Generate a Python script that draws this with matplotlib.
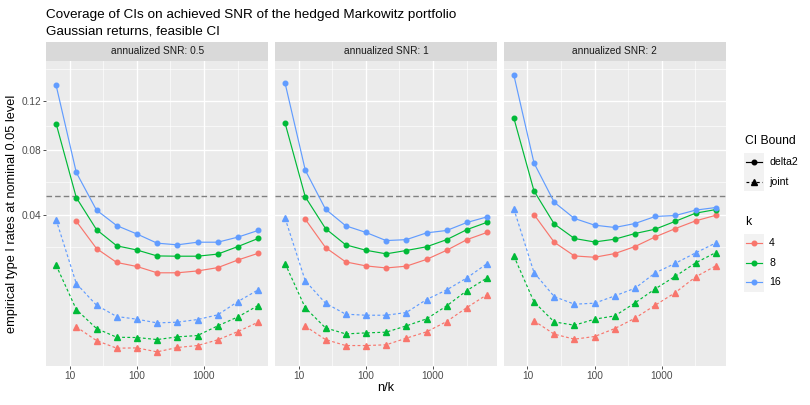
import numpy as np
import matplotlib
matplotlib.use("Agg")
import matplotlib.pyplot as plt
from matplotlib.patches import Rectangle

plt.rcParams['font.family'] = ['Liberation Sans', 'DejaVu Sans']

# n/k on the x axis (k=4 has no point at the first value)
n_over_k = [6.25, 12.5, 25, 50, 100, 200, 400, 800, 1600, 3200, 6400]
snr_labels = ['annualized SNR: 0.5', 'annualized SNR: 1', 'annualized SNR: 2']
k_values = [4, 8, 16]
k_colors = ['#F8766D', '#00BA38', '#619CFF']
nominal = 0.05

# annualized SNR 0.5
delta2_snr05_k4 = [0.0366, 0.0244, 0.0191, 0.0177, 0.0156, 0.0156, 0.0162, 0.0173, 0.0200, 0.0225]
delta2_snr05_k8 = [0.1006, 0.0492, 0.0326, 0.0255, 0.0238, 0.0215, 0.0214, 0.0214, 0.0222, 0.0252, 0.0286]
delta2_snr05_k16 = [0.1344, 0.0646, 0.0423, 0.0345, 0.0306, 0.0266, 0.0259, 0.0270, 0.0270, 0.0292, 0.0322]
joint_snr05_k4 = [0.00305, 0.00141, 0.00077, 0.00079, 0.00053, 0.00082, 0.00097, 0.00148, 0.00242, 0.00375]
joint_snr05_k8 = [0.01814, 0.00602, 0.00282, 0.00175, 0.00172, 0.00151, 0.00179, 0.00194, 0.00319, 0.00463, 0.00684]
joint_snr05_k16 = [0.0374, 0.01233, 0.00691, 0.00470, 0.00424, 0.00364, 0.00375, 0.00418, 0.00500, 0.00772, 0.01058]

# annualized SNR 1
delta2_snr1_k4 = [0.0376, 0.0248, 0.0193, 0.0179, 0.0172, 0.0178, 0.0202, 0.0237, 0.0281, 0.0313]
delta2_snr1_k8 = [0.1009, 0.0496, 0.0331, 0.0259, 0.0237, 0.0223, 0.0236, 0.0251, 0.0281, 0.0326, 0.0361]
delta2_snr1_k16 = [0.1363, 0.0661, 0.0428, 0.0344, 0.0313, 0.0277, 0.0281, 0.0311, 0.0322, 0.0360, 0.0388]
joint_snr1_k4 = [0.00314, 0.00151, 0.00097, 0.00097, 0.00103, 0.00165, 0.00238, 0.00386, 0.00642, 0.00938]
joint_snr1_k8 = [0.01871, 0.00635, 0.00291, 0.00213, 0.00225, 0.00234, 0.00319, 0.00429, 0.00677, 0.01041, 0.01401]
joint_snr1_k16 = [0.0381, 0.01311, 0.00735, 0.00512, 0.00493, 0.00493, 0.00543, 0.00818, 0.01058, 0.01401, 0.01871]

# annualized SNR 2
delta2_snr2_k4 = [0.0400, 0.0270, 0.0215, 0.0210, 0.0224, 0.0252, 0.0293, 0.0331, 0.0368, 0.0396]
delta2_snr2_k8 = [0.1053, 0.0531, 0.0353, 0.0286, 0.0271, 0.0283, 0.0308, 0.0328, 0.0366, 0.0407, 0.0426]
delta2_snr2_k16 = [0.1444, 0.0710, 0.0466, 0.0380, 0.0347, 0.0336, 0.0355, 0.0390, 0.0395, 0.0423, 0.0437]
joint_snr2_k4 = [0.00397, 0.00210, 0.00155, 0.00183, 0.00282, 0.00441, 0.00691, 0.00990, 0.01431, 0.01790]
joint_snr2_k8 = [0.0215, 0.00764, 0.00380, 0.00329, 0.00424, 0.00481, 0.00742, 0.01085, 0.01452, 0.01896, 0.0228]
joint_snr2_k16 = [0.0430, 0.01568, 0.00889, 0.00713, 0.00735, 0.00905, 0.01103, 0.01557, 0.01883, 0.02267, 0.0267]

facets = [
    ([delta2_snr05_k4, delta2_snr05_k8, delta2_snr05_k16],
     [joint_snr05_k4, joint_snr05_k8, joint_snr05_k16]),
    ([delta2_snr1_k4, delta2_snr1_k8, delta2_snr1_k16],
     [joint_snr1_k4, joint_snr1_k8, joint_snr1_k16]),
    ([delta2_snr2_k4, delta2_snr2_k8, delta2_snr2_k16],
     [joint_snr2_k4, joint_snr2_k8, joint_snr2_k16]),
]

W, H = 810, 405
fig = plt.figure(figsize=(W / 100, H / 100), dpi=100)

LW = 0.85
JOINT_LS = (0, (2.4, 2.0))

# ggplot-like scale limits: 5% expansion in transformed space
all_y = np.concatenate([np.array(s) for d, j in facets for s in d + j])
sy = np.sqrt(all_y)
pad = 0.05 * (sy.max() - sy.min())
ylim = ((sy.min() - pad) ** 2, (sy.max() + pad) ** 2)
lx = np.log10(n_over_k)
padx = 0.05 * (lx.max() - lx.min())
xlim = (10 ** (lx.min() - padx), 10 ** (lx.max() + padx))

y_major = [0.04, 0.08, 0.12]
s = np.sqrt(y_major)
bd = s[1] - s[0]
s_ext = np.concatenate([[s[0] - bd], s, [s[-1] + bd]])
y_minor = list(((s_ext[:-1] + s_ext[1:]) / 2) ** 2)
x_major = [10, 100, 1000]
x_minor = [10 ** 1.5, 10 ** 2.5, 10 ** 3.5]

panel_x = [46, 275, 503.7]
panel_w = 222.2
panel_top, panel_bot = 61, 365.7
strip_top = 41.7

for i, (d2, jt) in enumerate(facets):
    ax = fig.add_axes([panel_x[i] / W, 1 - panel_bot / H, panel_w / W, (panel_bot - panel_top) / H])
    ax.set_facecolor('#EBEBEB')
    for sp in ax.spines.values():
        sp.set_visible(False)
    ax.set_xscale('log')
    ax.set_yscale('function', functions=(np.sqrt, np.square))
    ax.set_xlim(xlim)
    ax.set_ylim(ylim)

    for v in y_minor:
        ax.axhline(v, color='white', lw=0.45, zorder=0.5)
    for v in x_minor:
        ax.axvline(v, color='white', lw=0.45, zorder=0.5)
    for v in y_major:
        ax.axhline(v, color='white', lw=0.95, zorder=0.6)
    for v in x_major:
        ax.axvline(v, color='white', lw=0.95, zorder=0.6)

    ax.axhline(nominal, color='#808080', lw=1.0, ls=(0, (4, 2.2)), zorder=1)

    for ki, col in enumerate(k_colors):
        yd = d2[ki]
        xs = n_over_k[len(n_over_k) - len(yd):]
        ax.plot(xs, yd, color=col, lw=LW, marker='o', ms=3.3, zorder=3)
        yj = jt[ki]
        xs = n_over_k[len(n_over_k) - len(yj):]
        ax.plot(xs, yj, color=col, lw=LW, ls=JOINT_LS, marker='^', ms=4.0, zorder=3)

    ax.set_xticks(x_major)
    ax.set_xticklabels(['10', '100', '1000'])
    ax.set_xticks([], minor=True)
    ax.set_yticks(y_major)
    ax.set_yticks([], minor=True)
    ax.tick_params(axis='both', length=2.0, width=0.6, color='#333333',
                   labelsize=7.3, labelcolor='#4D4D4D', pad=1.6)
    if i == 0:
        ax.set_yticklabels(['0.04', '0.08', '0.12'])
    else:
        ax.tick_params(axis='y', length=0, labelleft=False)

    # facet strip
    sax = fig.add_axes([panel_x[i] / W, 1 - panel_top / H, panel_w / W, (panel_top - strip_top) / H])
    sax.set_facecolor('#D9D9D9')
    sax.set_xticks([])
    sax.set_yticks([])
    for sp in sax.spines.values():
        sp.set_visible(False)
    sax.text(0.5, 0.5, snr_labels[i], ha='center', va='center', fontsize=7.3, color='#1A1A1A',
             transform=sax.transAxes)

# titles
fig.text(46 / W, 1 - 18 / H, 'Coverage of CIs on achieved SNR of the hedged Markowitz portfolio',
         fontsize=9.7, va='baseline', ha='left')
fig.text(46 / W, 1 - 34 / H, 'Gaussian returns, feasible CI', fontsize=9.7, va='baseline', ha='left')
fig.text((46 + 725.9) / 2 / W, 1 - 388 / H, 'n/k', fontsize=9.2, ha='center', va='center')
fig.text(12 / W, 1 - 213.4 / H, 'empirical type I rates at nominal 0.05 level', fontsize=9.2,
         rotation=90, ha='center', va='center')

# legend drawn in pixel space
lg = fig.add_axes([0, 0, 1, 1])
lg.set_xlim(0, W)
lg.set_ylim(H, 0)
lg.axis('off')
lg.patch.set_alpha(0)

lg.text(745, 141, 'CI Bound', fontsize=8.7, va='center', ha='left')
for yy, ls, mk, ms, lab in [(162.3, '-', 'o', 3.3, 'delta2'), (181.7, JOINT_LS, '^', 4.0, 'joint')]:
    lg.add_patch(Rectangle((744, yy - 9.8), 20, 19.6, facecolor='#F2F2F2', edgecolor='none'))
    lg.plot([746, 762], [yy, yy], color='black', lw=LW, ls=ls)
    lg.plot([754], [yy], color='black', marker=mk, ms=ms)
    lg.text(769, yy, lab, fontsize=7.6, va='center', ha='left')

lg.text(745, 221.7, 'k', fontsize=8.7, va='center', ha='left')
for yy, col, kv in zip([243.3, 262.7, 282.4], k_colors, k_values):
    lg.add_patch(Rectangle((744, yy - 9.8), 20, 19.6, facecolor='#F2F2F2', edgecolor='none'))
    lg.plot([746, 762], [yy, yy], color=col, lw=LW)
    lg.plot([754], [yy], color=col, marker='o', ms=3.3)
    lg.text(769, yy, str(kv), fontsize=7.6, va='center', ha='left')

fig.savefig('out.png', dpi=100)
